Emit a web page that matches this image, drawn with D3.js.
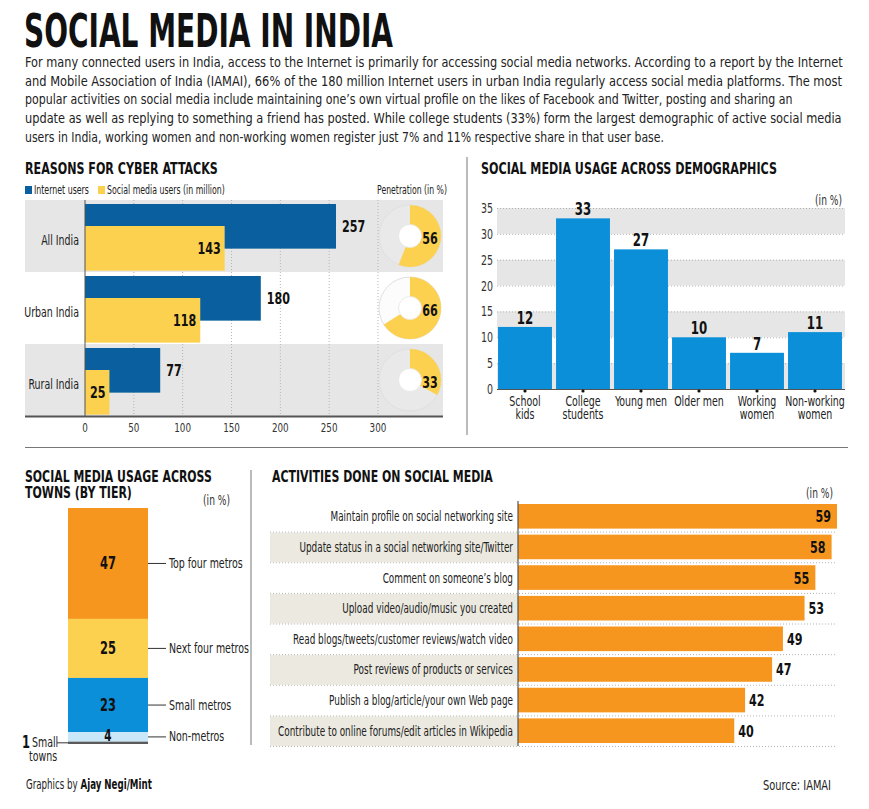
<!DOCTYPE html>
<html><head><meta charset="utf-8">
<script src="https://cdn.jsdelivr.net/npm/d3@7"></script>
<style>
html,body{margin:0;padding:0;background:#fff;}
svg{display:block;}
text{font-family:'Liberation Sans Narrow','DejaVu Sans Condensed','Roboto Condensed','Arial Narrow',sans-serif;font-stretch:condensed;fill:#222;}
</style></head>
<body>
<svg id="chart" width="869" height="809"></svg>
<script>
// ---------------- DATA ----------------
const titleText = "SOCIAL MEDIA IN INDIA";
const introLines = [
  "For many connected users in India, access to the Internet is primarily for accessing social media networks. According to a report by the Internet",
  "and Mobile Association of India (IAMAI), 66% of the 180 million Internet users in urban India regularly access social media platforms. The most",
  "popular activities on social media include maintaining one\u2019s own virtual profile on the likes of Facebook and Twitter, posting and sharing an",
  "update as well as replying to something a friend has posted. While college students (33%) form the largest demographic of active social media",
  "users in India, working women and non-working women register just 7% and 11% respective share in that user base."
];

const regions = ["All India", "Urban India", "Rural India"];
const internetUsers = [257, 180, 77];
const socialUsers = [143, 118, 25];
const penetration = [56, 66, 33];
const userTicks = [0, 50, 100, 150, 200, 250, 300];

const demoCategories = ["School kids", "College students", "Young men", "Older men", "Working women", "Non-working women"];
const demoLabelLines = [["School", "kids"], ["College", "students"], ["Young men"], ["Older men"], ["Working", "women"], ["Non-working", "women"]];
const demoValues = [12, 33, 27, 10, 7, 11];
const demoTicks = [0, 5, 10, 15, 20, 25, 30, 35];

const tiers = ["Top four metros", "Next four metros", "Small metros", "Non-metros", "Small towns"];
const tierValues = [47, 25, 23, 4, 1];

const activities = [
  "Maintain profile on social networking site",
  "Update status in a social networking site/Twitter",
  "Comment on someone\u2019s blog",
  "Upload video/audio/music you created",
  "Read blogs/tweets/customer reviews/watch video",
  "Post reviews of products or services",
  "Publish a blog/article/your own Web page",
  "Contribute to online forums/edit articles in Wikipedia"
];
const activityValues = [59, 58, 55, 53, 49, 47, 42, 40];

// ---------------- STYLE ----------------
const C = {
  darkBlue: "#0a5f9e", yellow: "#fdd150", brightBlue: "#0b8fd9", orange: "#f7961e",
  lightBlue: "#c8e7f8", gray: "#5a5a5a", band: "#e6e6e6", beige: "#ebe9e0", dot: "#b5b5b5", axis: "#555"
};
const CONDENSE = 0.75;
const svg = d3.select("#chart");
svg.append("rect").attr("width", 869).attr("height", 809).attr("fill", "#fff");

// ---------------- HEADER ----------------
svg.append("text").attr("x", 24).attr("y", 47).attr("font-size", 47).attr("font-weight", "bold")
  .attr("data-w", 369).style("fill", "#111").text(titleText);
const introEnds = [843, 843, 793, 842, 664];
svg.append("g").selectAll("text").data(introLines).join("text")
  .attr("x", 25).attr("y", (d, i) => 67 + i * 18.7)
  .attr("font-size", 14.5)
  .attr("data-w", (d, i) => introEnds[i] - 25)
  .style("fill", "#222").text(d => d);

function sectionTitle(x, y, t, w) {
  return svg.append("text").attr("x", x).attr("y", y).attr("font-size", 16.5).attr("font-weight", "bold")
    .attr("data-w", w).style("fill", "#111").text(t);
}

// ---------------- PANEL 1 ----------------
(function () {
  const g = svg.append("g");
  sectionTitle(25, 174, "REASONS FOR CYBER ATTACKS", 193);
  g.append("rect").attr("x", 25).attr("y", 186).attr("width", 7).attr("height", 8).attr("fill", C.darkBlue);
  g.append("text").attr("x", 34).attr("y", 194.5).attr("font-size", 12.5).attr("data-w", 55).text("Internet users");
  g.append("rect").attr("x", 98).attr("y", 186).attr("width", 7).attr("height", 8).attr("fill", C.yellow);
  g.append("text").attr("x", 107).attr("y", 194.5).attr("font-size", 12.5).attr("data-w", 118).text("Social media users (in million)");
  g.append("text").attr("x", 447).attr("y", 194.5).attr("font-size", 12.5).attr("data-w", 70).attr("text-anchor", "end").text("Penetration (in %)");

  const x = d3.scaleLinear().domain([0, 300]).range([85, 378]);
  const y = d3.scaleBand().domain(regions).range([200, 416]);
  g.selectAll(".band").data(regions).join("rect")
    .attr("x", 25).attr("width", 418).attr("y", d => y(d)).attr("height", y.bandwidth())
    .attr("fill", (d, i) => i % 2 === 0 ? C.band : "#fff");
  g.selectAll(".grid").data(userTicks.slice(1)).join("line")
    .attr("x1", d => x(d)).attr("x2", d => x(d)).attr("y1", 200).attr("y2", 416)
    .attr("stroke", C.dot).attr("stroke-dasharray", "1,2");
  const bh = y.bandwidth() * 0.62;
  g.selectAll(".ib").data(regions).join("rect")
    .attr("x", x(0)).attr("y", d => y(d) + 4).attr("height", bh)
    .attr("width", (d, i) => x(internetUsers[i]) - x(0)).attr("fill", C.darkBlue);
  g.selectAll(".sb").data(regions).join("rect")
    .attr("x", x(0)).attr("y", d => y(d) + 26).attr("height", bh)
    .attr("width", (d, i) => x(socialUsers[i]) - x(0)).attr("fill", C.yellow);
  g.selectAll(".iv").data(regions).join("text")
    .attr("x", (d, i) => x(internetUsers[i]) + 6).attr("y", d => y(d) + 4 + bh / 2 + 6)
    .attr("font-size", 16.5).attr("font-weight", "bold").style("fill", "#111")
    .text((d, i) => internetUsers[i]);
  g.selectAll(".sv").data(regions).join("text")
    .attr("x", (d, i) => x(socialUsers[i]) - 4).attr("y", d => y(d) + 26 + bh / 2 + 6)
    .attr("text-anchor", "end").attr("font-size", 16.5).attr("font-weight", "bold").style("fill", "#111")
    .text((d, i) => socialUsers[i]);
  g.selectAll(".cl").data(regions).join("text")
    .attr("x", 79).attr("y", d => y(d) + y.bandwidth() / 2 + 9.5)
    .attr("text-anchor", "end").attr("font-size", 14).style("fill", "#222").text(d => d);
  g.append("line").attr("x1", 85).attr("x2", 85).attr("y1", 200).attr("y2", 416).attr("stroke", C.axis).attr("stroke-width", 1);
  g.append("line").attr("x1", 25).attr("x2", 443).attr("y1", 416.5).attr("y2", 416.5).attr("stroke", C.axis).attr("stroke-width", 2);
  g.selectAll(".tl").data(userTicks).join("text")
    .attr("x", d => x(d)).attr("y", 432).attr("text-anchor", "middle").attr("font-size", 13).style("fill", "#333").text(d => d);
  const r = 31;
  const arc = d3.arc().innerRadius(0).outerRadius(r);
  regions.forEach((reg, i) => {
    const cy = y(reg) + y.bandwidth() / 2;
    const cx = 410;
    const dg = g.append("g").attr("transform", `translate(${cx},${cy})`);
    dg.append("circle").attr("r", r).attr("fill", i % 2 === 0 ? "#e9e9e9" : "#fcfcfc").attr("stroke", "#e0e0e0").attr("stroke-width", 1);
    dg.append("path").attr("d", arc({ startAngle: 0, endAngle: 2 * Math.PI * penetration[i] / 100 })).attr("fill", C.yellow);
    dg.append("circle").attr("r", 11.5).attr("fill", "#fff").attr("stroke", "#e4e4e4").attr("stroke-width", 0.8);
    dg.append("text").attr("x", 20).attr("y", 8).attr("text-anchor", "middle").attr("font-size", 16.5).attr("font-weight", "bold").style("fill", "#111").text(penetration[i]);
  });
})();

// divider lines
svg.append("line").attr("x1", 467).attr("x2", 467).attr("y1", 157).attr("y2", 435).attr("stroke", "#777").attr("stroke-width", 1);
svg.append("line").attr("x1", 25).attr("x2", 848).attr("y1", 447.5).attr("y2", 447.5).attr("stroke", "#777").attr("stroke-width", 1);
svg.append("line").attr("x1", 251).attr("x2", 251).attr("y1", 470).attr("y2", 745).attr("stroke", "#777").attr("stroke-width", 1);

// ---------------- PANEL 2 ----------------
(function () {
  const g = svg.append("g");
  sectionTitle(481, 174, "SOCIAL MEDIA USAGE  ACROSS DEMOGRAPHICS", 296);
  const y = d3.scaleLinear().domain([0, 35]).range([389, 208]);
  const x = d3.scaleBand().domain(demoCategories).range([496, 844]).paddingInner(0.07).paddingOuter(0.035);
  const bandPairs = [[0, 5], [10, 15], [20, 25], [30, 35]];
  g.selectAll(".bg").data(bandPairs).join("rect")
    .attr("x", 497).attr("width", 348).attr("y", d => y(d[1])).attr("height", d => y(d[0]) - y(d[1])).attr("fill", C.band);
  g.selectAll(".gl").data(demoTicks.slice(1)).join("line")
    .attr("x1", 497).attr("x2", 845).attr("y1", d => y(d) + 0.5).attr("y2", d => y(d) + 0.5)
    .attr("stroke", C.dot).attr("stroke-dasharray", "1,2");
  g.selectAll(".yt").data(demoTicks).join("text")
    .attr("x", 493).attr("y", d => y(d) + 5).attr("text-anchor", "end").attr("font-size", 14).style("fill", "#333").text(d => d);
  g.append("text").attr("x", 842).attr("y", 205).attr("text-anchor", "end").attr("font-size", 13.5).style("fill", "#333").text("(in %)");
  g.selectAll(".bar").data(demoCategories).join("rect")
    .attr("x", d => x(d)).attr("width", x.bandwidth())
    .attr("y", (d, i) => y(demoValues[i])).attr("height", (d, i) => y(0) - y(demoValues[i])).attr("fill", C.brightBlue);
  g.selectAll(".val").data(demoCategories).join("text")
    .attr("x", d => x(d) + x.bandwidth() / 2).attr("y", (d, i) => y(demoValues[i]) - 3)
    .attr("text-anchor", "middle").attr("font-size", 17.5).attr("font-weight", "bold").style("fill", "#111").text((d, i) => demoValues[i]);
  g.append("line").attr("x1", 497).attr("x2", 845).attr("y1", 389.5).attr("y2", 389.5).attr("stroke", C.axis).attr("stroke-width", 1.2);
  g.selectAll(".dot").data(demoCategories).join("circle")
    .attr("cx", d => x(d) + x.bandwidth() / 2).attr("cy", 391).attr("r", 1.6).attr("fill", "#111");
  demoCategories.forEach((c, i) => {
    const cx = x(c) + x.bandwidth() / 2;
    g.append("text").attr("x", cx).attr("y", 406.5).attr("text-anchor", "middle")
      .attr("font-size", 14).style("fill", "#222")
      .selectAll("tspan").data(demoLabelLines[i]).join("tspan")
      .attr("x", cx).attr("dy", (d, j) => j === 0 ? 0 : 13).text(d => d);
  });
})();

// ---------------- PANEL 3 ----------------
(function () {
  const g = svg.append("g");
  sectionTitle(25, 482, "SOCIAL MEDIA USAGE ACROSS", 187);
  sectionTitle(25, 498, "TOWNS (BY TIER)", 107);
  g.append("text").attr("x", 230).attr("y", 505).attr("text-anchor", "end").attr("font-size", 13.5).style("fill", "#333").text("(in %)");
  const y = d3.scaleLinear().domain([0, 100]).range([508, 744]);
  const colors = [C.orange, C.yellow, C.brightBlue, C.lightBlue, C.gray];
  let cum = 0;
  const segs = tierValues.map((v, i) => { const s = { v, i, y0: cum, y1: cum + v }; cum += v; return s; });
  g.selectAll(".seg").data(segs).join("rect")
    .attr("x", 68).attr("width", 80).attr("y", d => y(d.y0)).attr("height", d => y(d.y1) - y(d.y0))
    .attr("fill", d => colors[d.i]);
  const main = segs.slice(0, 4);
  g.selectAll(".sv").data(main).join("text")
    .attr("x", 108).attr("y", d => (y(d.y0) + y(d.y1)) / 2 + (d.i === 3 ? 4.5 : 6))
    .attr("text-anchor", "middle").attr("font-size", d => d.i === 3 ? 15.5 : 17).attr("font-weight", "bold").style("fill", "#111").text(d => d.v);
  g.selectAll(".ll").data(main).join("line")
    .attr("x1", 148).attr("x2", 166).attr("y1", d => (y(d.y0) + y(d.y1)) / 2).attr("y2", d => (y(d.y0) + y(d.y1)) / 2)
    .attr("stroke", "#333").attr("stroke-width", 1);
  g.selectAll(".lt").data(main).join("text")
    .attr("x", 169).attr("y", d => (y(d.y0) + y(d.y1)) / 2 + 4.5).attr("font-size", 14).style("fill", "#222").text(d => tiers[d.i]);
  const last = segs[4];
  const ly = (y(last.y0) + y(last.y1)) / 2;
  const parts = tiers[4].split(" ");
  g.append("line").attr("x1", 57).attr("x2", 68).attr("y1", ly).attr("y2", ly).attr("stroke", "#333");
  g.append("text").attr("x", 22).attr("y", ly + 5).attr("font-size", 17).attr("font-weight", "bold").style("fill", "#111").text(last.v);
  const st = g.append("text").attr("x", 32).attr("y", ly + 4).attr("font-size", 14).style("fill", "#222");
  st.append("tspan").attr("x", 32).text(parts[0]);
  st.append("tspan").attr("x", 28).attr("dy", 14).text(parts[1]);
  const t = g.append("text").attr("x", 26).attr("y", 789).attr("font-size", 13.5).attr("data-w", 126).style("fill", "#222");
  t.append("tspan").text("Graphics by ");
  t.append("tspan").attr("font-weight", "bold").style("fill", "#111").text("Ajay Negi/Mint");
})();

// ---------------- PANEL 4 ----------------
(function () {
  const g = svg.append("g");
  sectionTitle(272, 482, "ACTIVITIES DONE ON SOCIAL MEDIA", 221);
  g.append("text").attr("x", 833).attr("y", 498).attr("text-anchor", "end").attr("font-size", 13.5).style("fill", "#333").text("(in %)");
  const x = d3.scaleLinear().domain([0, 59]).range([518, 837]);
  const y = d3.scaleBand().domain(activities).range([501, 746]);
  g.selectAll(".bg").data(activities.filter((d, i) => i % 2 === 1)).join("rect")
    .attr("x", 270).attr("width", 248).attr("y", d => y(d) + 1).attr("height", y.bandwidth() - 1).attr("fill", C.beige);
  g.selectAll(".sep").data(activities.slice(1)).join("line")
    .attr("x1", 270).attr("x2", 837).attr("y1", d => y(d) + 0.5).attr("y2", d => y(d) + 0.5)
    .attr("stroke", C.dot).attr("stroke-dasharray", "1,2");
  g.append("line").attr("x1", 270).attr("x2", 837).attr("y1", 746.5).attr("y2", 746.5).attr("stroke", C.dot).attr("stroke-dasharray", "1,2");
  g.selectAll(".bar").data(activities).join("rect")
    .attr("x", x(0)).attr("y", d => y(d) + 3).attr("height", y.bandwidth() - 6)
    .attr("width", (d, i) => x(activityValues[i]) - x(0)).attr("fill", C.orange);
  g.selectAll(".lab").data(activities).join("text")
    .attr("x", 513).attr("y", d => y(d) + y.bandwidth() / 2 + 5).attr("text-anchor", "end")
    .attr("font-size", 14).attr("data-c", 0.705).style("fill", "#222").text(d => d);
  g.selectAll(".val").data(activities).join("text")
    .attr("x", (d, i) => activityValues[i] >= 55 ? x(activityValues[i]) - 6 : x(activityValues[i]) + 4)
    .attr("text-anchor", (d, i) => activityValues[i] >= 55 ? "end" : "start")
    .attr("y", d => y(d) + y.bandwidth() / 2 + 6)
    .attr("font-size", 16.5).attr("font-weight", "bold").style("fill", "#111").text((d, i) => activityValues[i]);
  g.append("line").attr("x1", 518).attr("x2", 518).attr("y1", 501).attr("y2", 746).attr("stroke", C.axis).attr("stroke-width", 1.2);
  g.append("text").attr("x", 831).attr("y", 790).attr("text-anchor", "end").attr("font-size", 14).attr("data-w", 68).style("fill", "#222").text("Source: IAMAI");
})();

// condense every text horizontally (about its anchor) to mimic the narrow newspaper face
svg.selectAll("text").each(function () {
  const w = this.getAttribute("data-w");
  const c = this.getAttribute("data-c");
  const k = w ? (+w / this.getComputedTextLength()) : (c ? +c : CONDENSE);
  const x = +this.getAttribute("x"), y = +this.getAttribute("y");
  this.setAttribute("transform", `translate(${x},${y}) scale(${k.toFixed(4)},1) translate(${-x},${-y})`);
});
</script>
</body></html>
